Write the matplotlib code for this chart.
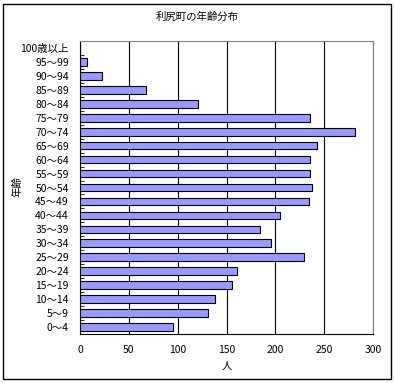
import matplotlib.pyplot as plt
from matplotlib.patches import Rectangle

plt.rcParams['font.family'] = ['Noto Sans CJK JP', 'DejaVu Sans']

ages = ["0〜4", "5〜9", "10〜14", "15〜19", "20〜24", "25〜29", "30〜34", "35〜39",
        "40〜44", "45〜49", "50〜54", "55〜59", "60〜64", "65〜69", "70〜74",
        "75〜79", "80〜84", "85〜89", "90〜94", "95〜99", "100歳以上"]
people = [95, 131, 138, 156, 161, 229, 196, 184, 205, 234, 238, 235, 236,
          243, 282, 235, 121, 68, 23, 7, 0]

fig = plt.figure(figsize=(3.94, 3.83), dpi=100)
ax = fig.add_axes([80 / 394, 1 - 334 / 383, 293 / 394, 293 / 383])

pos = list(range(len(ages)))
ax.barh(pos, people, height=0.55, color="#9999FF", edgecolor="black", linewidth=0.8, zorder=3)

ax.set_xlim(0, 300)
ax.set_ylim(-0.5, len(ages) - 0.5)
ax.set_xticks([0, 50, 100, 150, 200, 250, 300])
ax.set_yticks(pos)
ax.set_yticklabels(ages)
ax.set_yticks([p + 0.5 for p in pos[:-1]], minor=True)
ax.tick_params(axis="y", which="major", length=0, labelsize=7.5, pad=8)
ax.tick_params(axis="y", which="minor", direction="in", length=3)
ax.tick_params(axis="x", length=0, labelsize=7.5, pad=8)

ax.grid(axis="x", color="black", linewidth=0.8, zorder=0)
for s in ["top", "right"]:
    ax.spines[s].set_color("gray")
for s in ["left", "bottom"]:
    ax.spines[s].set_color("black")

ax.set_xlabel("人", fontsize=7.5, labelpad=4)
fig.text(17 / 394, 1 - 187 / 383, "年齢", rotation=90, ha="center", va="center", fontsize=7.5)
fig.text(0.5, 1 - 17 / 383, "利尻町の年齢分布", ha="center", va="center", fontsize=7.5)

fig.patches.append(Rectangle((3 / 394, 4 / 383), 388 / 394, 375 / 383, transform=fig.transFigure,
                             fill=False, edgecolor="black", linewidth=1))

fig.savefig("out.png", dpi=100)
